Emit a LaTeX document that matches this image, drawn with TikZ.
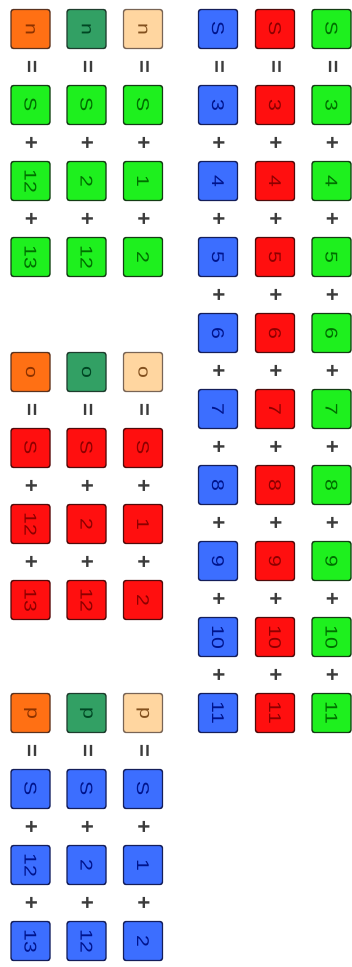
\documentclass[tikz,border=0pt]{standalone}
\usepackage{fontspec}
\setmainfont{Liberation Sans}
\definecolor{orF}{RGB}{255,112,20}\definecolor{orD}{RGB}{140,50,0}\definecolor{orB}{RGB}{90,50,30}
\definecolor{sgF}{RGB}{50,160,100}\definecolor{sgD}{RGB}{0,70,35}\definecolor{sgB}{RGB}{30,60,45}
\definecolor{peF}{RGB}{255,214,160}\definecolor{peD}{RGB}{130,80,30}\definecolor{peB}{RGB}{120,100,85}
\definecolor{buF}{RGB}{60,110,255}\definecolor{buD}{RGB}{0,20,140}\definecolor{buB}{RGB}{20,30,90}
\definecolor{rdF}{RGB}{255,15,15}\definecolor{rdD}{RGB}{140,0,0}\definecolor{rdB}{RGB}{80,10,10}
\definecolor{gnF}{RGB}{30,240,30}\definecolor{gnD}{RGB}{0,110,0}\definecolor{gnB}{RGB}{20,60,20}
\definecolor{opC}{RGB}{60,60,60}
\newcommand\lbl[1]{\scalebox{1.25}[1]{#1}}
\begin{document}
\begin{tikzpicture}[x=1pt,y=-1pt,
  cell/.style={draw, line width=1.4pt, rounded corners=2.5pt, minimum width=39pt, minimum height=39pt,
    inner sep=0pt, font=\fontsize{17}{17}\selectfont, rotate=-90},
  col/.style n args={3}{fill=#1, draw=#2, text=#3},
  orc/.style={col={orF}{orB}{orD}}, sgc/.style={col={sgF}{sgB}{sgD}}, pec/.style={col={peF}{peB}{peD}},
  buc/.style={col={buF}{buB}{buD}}, rdc/.style={col={rdF}{rdB}{rdD}}, gnc/.style={col={gnF}{gnB}{gnD}},
  op/.style={inner sep=0pt, text=opC, font=\fontsize{22}{22}\selectfont\bfseries, rotate=-90}]
\useasboundingbox (0,0) rectangle (351,967);
% right block: three columns S = 3+4+...+11
\foreach \c/\xx/\st in {b/218/buc, r/275/rdc, g/331.5/gnc}{
  \node[cell,\st] (R\c S) at (\xx,29) {\lbl{S}};
  \foreach \k [evaluate=\k as \yy using 29+76*(\k-2)] in {3,...,11}{
    \node[cell,\st] (R\c\k) at (\xx,\yy) {\lbl{\k}};
  }
  \node[op] (Re\c) at (\xx,67) {=};
  \foreach \k [evaluate=\k as \yy using 67+76*(\k-3)] in {4,...,11}{
    \node[op] (Rp\c\k) at (\xx,\yy) {+};
  }
}
% left groups
\foreach \g/\lab/\yy/\st in {n/n/29/gnc, o/o/372/rdc, p/p/713/buc}{
  \foreach \c/\xx/\hc/\ta/\tb in {1/30.5/orc/12/13, 2/86.5/sgc/2/12, 3/143/pec/1/2}{
    \node[cell,\hc] (L\g\c h) at (\xx,\yy) {\lbl{\lab}};
    \node[cell,\st] (L\g\c s) at (\xx,\yy+76) {\lbl{S}};
    \node[cell,\st] (L\g\c a) at (\xx,\yy+152) {\lbl{\ta}};
    \node[cell,\st] (L\g\c b) at (\xx,\yy+228) {\lbl{\tb}};
    \node[op] (L\g\c e) at (\xx,\yy+38) {=};
    \node[op] (L\g\c p) at (\xx,\yy+114) {+};
    \node[op] (L\g\c q) at (\xx,\yy+190) {+};
  }
}
\end{tikzpicture}
\end{document}
